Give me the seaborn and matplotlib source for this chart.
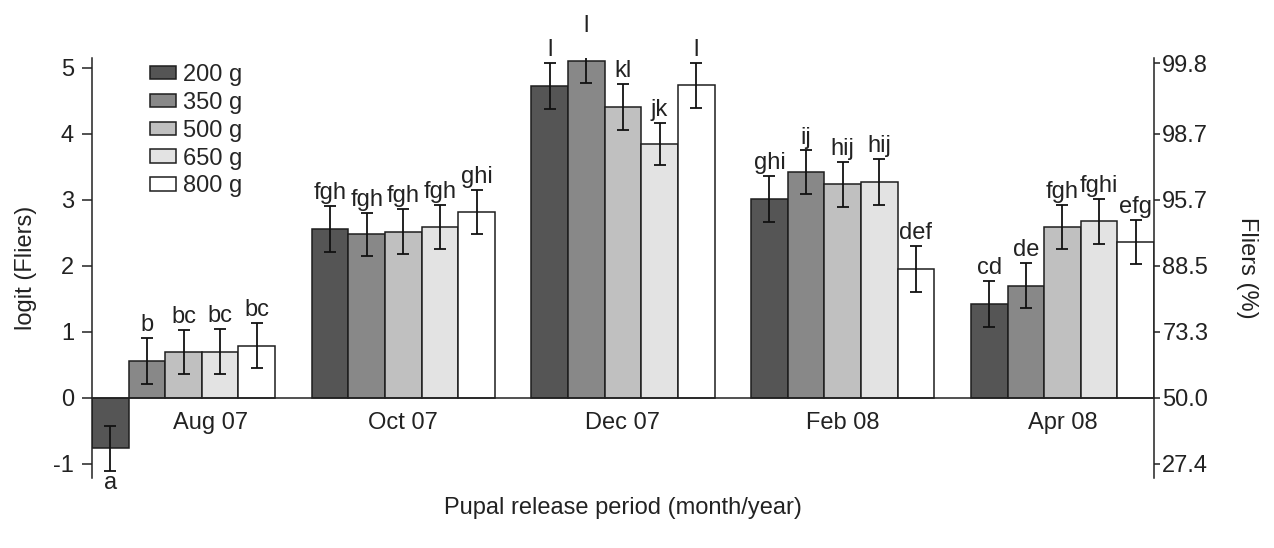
import pandas as pd
import seaborn as sns
import matplotlib.pyplot as plt
import matplotlib.transforms as mtransforms

periods = ["Aug 07", "Oct 07", "Dec 07", "Feb 08", "Apr 08"]
masses = ["200 g", "350 g", "500 g", "650 g", "800 g"]
colors = ["#555555", "#888888", "#c0c0c0", "#e3e3e3", "#ffffff"]

# logit(fliers) per mass, one value per period
logit_200 = [-0.76, 2.56, 4.73, 3.02, 1.42]
logit_350 = [0.56, 2.48, 5.11, 3.42, 1.70]
logit_500 = [0.70, 2.52, 4.41, 3.24, 2.59]
logit_650 = [0.70, 2.59, 3.85, 3.27, 2.68]
logit_800 = [0.79, 2.82, 4.74, 1.96, 2.36]

# half-width of the error bars
err_200 = [0.34, 0.35, 0.35, 0.35, 0.35]
err_350 = [0.35, 0.33, 0.33, 0.33, 0.34]
err_500 = [0.33, 0.34, 0.35, 0.34, 0.33]
err_650 = [0.34, 0.33, 0.32, 0.35, 0.34]
err_800 = [0.34, 0.33, 0.34, 0.35, 0.33]

letters_200 = ["a", "fgh", "l", "ghi", "cd"]
letters_350 = ["b", "fgh", "l", "ij", "de"]
letters_500 = ["bc", "fgh", "kl", "hij", "fgh"]
letters_650 = ["bc", "fgh", "jk", "hij", "fghi"]
letters_800 = ["bc", "ghi", "l", "def", "efg"]

right_ticks = [-1, 0, 1, 2, 3, 4, 5.07]
right_labels = ["27.4", "50.0", "73.3", "88.5", "95.7", "98.7", "99.8"]

values = [logit_200, logit_350, logit_500, logit_650, logit_800]
errors = [err_200, err_350, err_500, err_650, err_800]
letters = [letters_200, letters_350, letters_500, letters_650, letters_800]

rows = []
for m, vals in zip(masses, values):
    for p, v in zip(periods, vals):
        rows.append({"period": p, "mass": m, "logit": v})
df = pd.DataFrame(rows)

sns.set_style("ticks")
plt.rcParams["font.family"] = ["Liberation Sans", "DejaVu Sans"]
plt.rcParams["font.size"] = 17

fig = plt.figure(figsize=(12.74, 5.48), dpi=100)
ax = fig.add_axes([0.0722, 0.128, 0.8336, 0.766])

sns.barplot(
    data=df, x="period", y="logit", hue="mass",
    order=periods, hue_order=masses, palette=colors,
    width=5 / 6, gap=0, errorbar=None,
    edgecolor="#1e1e1e", linewidth=1.1, saturation=1, ax=ax,
)

for cont, errs, labs in zip(ax.containers, errors, letters):
    for bar, e, lab in zip(cont, errs, labs):
        xc = bar.get_x() + bar.get_width() / 2
        h = bar.get_height()
        ax.errorbar(xc, h, yerr=e, color="#111", lw=1.3,
                    capsize=4.5, capthick=1.3)
        if h < 0:
            ax.text(xc, h - e - 0.02, lab, ha="center", va="top", color="#222")
        else:
            ax.text(xc, h + e + 0.03, lab, ha="center", va="bottom", color="#222")

ax.set_xlim(-5 / 12, 4 + 5 / 12)
ax.set_ylim(-1.21, 5.15)
ax.set_yticks([-1, 0, 1, 2, 3, 4, 5])
ax.set_yticklabels(["-1", "0", "1", "2", "3", "4", "5"])

ax.spines["top"].set_visible(False)
ax.spines["right"].set_visible(False)
ax.spines["bottom"].set_position(("data", 0))
ax.spines["left"].set_color("#222")
ax.spines["bottom"].set_color("#222")
ax.spines["left"].set_linewidth(1.1)
ax.spines["bottom"].set_linewidth(1.1)
ax.tick_params(axis="y", length=7, width=1.1, color="#222", labelcolor="#222", pad=6)
ax.tick_params(axis="x", length=0, pad=10, labelcolor="#222")

# Aug 07 label sits to the right of the negative bar
offset = mtransforms.ScaledTranslation(27 / 100, 0, fig.dpi_scale_trans)
lbl = ax.get_xticklabels()[0]
lbl.set_transform(lbl.get_transform() + offset)

ax.set_xlabel("Pupal release period (month/year)", color="#222")
ax.xaxis.set_label_coords(0.5, -0.045)
ax.set_ylabel("logit (Fliers)", color="#222")
ax.yaxis.set_label_coords(-0.052, 0.5)

ax2 = ax.twinx()
ax2.set_ylim(ax.get_ylim())
ax2.set_yticks(right_ticks)
ax2.set_yticklabels(right_labels)
for s in ["top", "left", "bottom"]:
    ax2.spines[s].set_visible(False)
ax2.spines["right"].set_color("#222")
ax2.spines["right"].set_linewidth(1.1)
ax2.tick_params(axis="y", length=4, width=1.1, color="#222", labelcolor="#222", pad=2)
ax2.set_ylabel("Fliers (%)", rotation=270, color="#222", labelpad=36)

leg = ax.legend(
    frameon=False, loc="upper left", bbox_to_anchor=(0.041, 1.02),
    handlelength=1.1, handleheight=0.5, handletextpad=0.3,
    labelspacing=0.25, borderaxespad=0.2,
)

fig.savefig("out.png", dpi=100)
